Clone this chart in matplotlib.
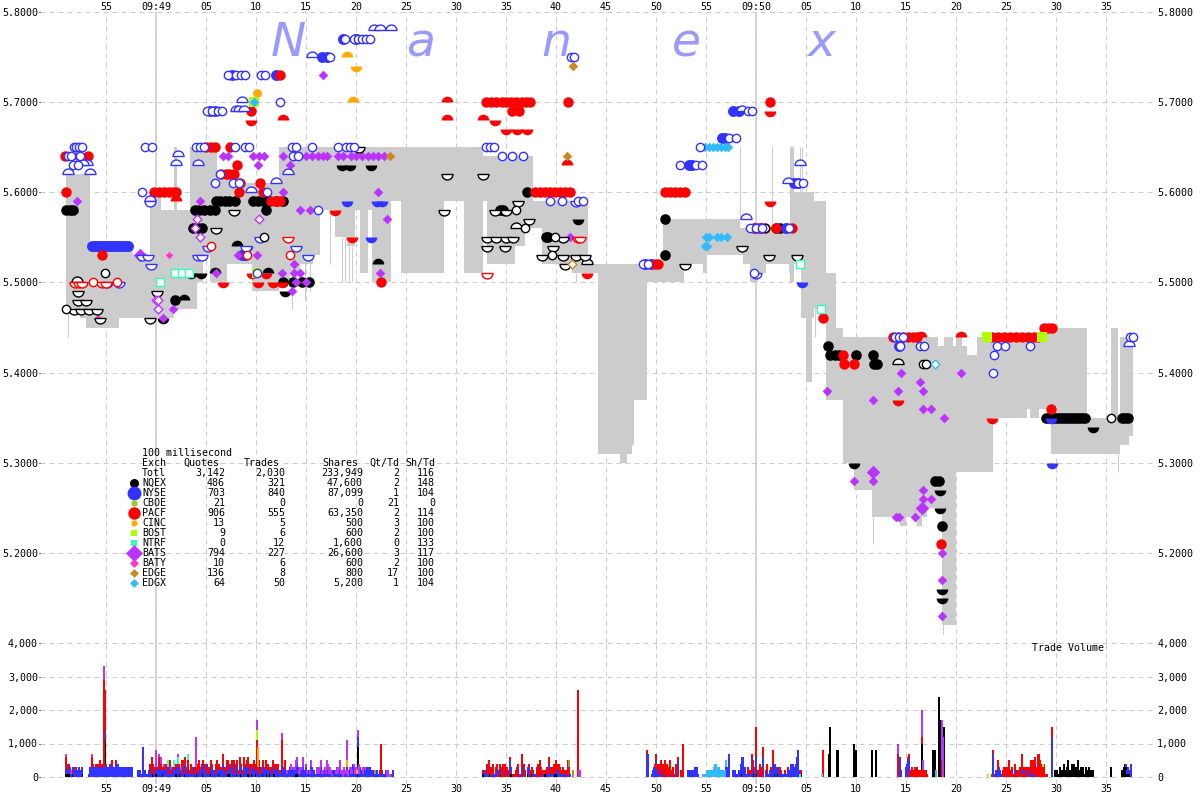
#!/usr/bin/env python3
from collections import defaultdict

import matplotlib
matplotlib.use("Agg")
import matplotlib.pyplot as plt
from matplotlib.path import Path
import numpy as np

plt.rcParams['font.family'] = ['DejaVu Sans Mono']
plt.rcParams['font.size'] = 7.2

BLUE = '#3333ff'
RED = '#ff0000'
BLACK = '#000000'
PURPLE = '#bb33ff'
ORANGE = '#ffaa00'
LIME = '#aaff00'
TEAL = '#33ffbb'
PINK = '#ff33cc'
GOLD = '#cc8822'
SKY = '#33bbff'
CBOE = '#99cc22'
GRAY = '#cccccc'

# seconds after 09:49:00, upper and lower edge of the grey band
band_t = [-9.0, -7.6, -7.0, -6.6, -3.7, -2.3, -0.6, 0.5, 1.8, 2.1, 3.4, 4.1, 4.7, 5.4, 6.1, 7.1, 8.2, 9.6,
          12.3, 13.4, 14.4, 15.7, 16.4, 17.9, 19.1, 19.9, 20.4, 21.2, 21.6, 23.5, 24.5, 28.8, 30.8, 32.7, 33.1,
          35.9, 36.9, 37.7, 38.6, 41.6, 43.2, 44.2, 46.4, 47.1, 47.6, 47.8, 49.1, 50.7, 52.8, 54.7, 55.1, 58.4,
          58.7, 59.4, 60.2, 61.0, 63.3, 63.4, 63.8, 64.5, 65.0, 65.6, 65.8, 67.0, 68.0, 68.7, 69.8, 71.6, 74.4,
          75.0, 76.1, 76.6, 77.1, 78.2, 78.6, 78.8, 79.7, 80.0, 80.6, 81.1, 82.1, 83.7, 87.1, 87.4, 88.3, 89.1,
          89.5, 93.1, 95.5, 96.2, 96.4, 97.3, 97.7]
band_hi = [5.62, 5.62, 5.62, 5.54, 5.54, 5.53, 5.60, 5.58, 5.65, 5.58, 5.65, 5.65, 5.65, 5.65, 5.62, 5.62, 5.61, 5.61,
           5.65, 5.65, 5.65, 5.65, 5.65, 5.65, 5.65, 5.65, 5.65, 5.65, 5.65, 5.65, 5.65, 5.65, 5.65, 5.64, 5.64,
           5.64, 5.64, 5.59, 5.59, 5.59, 5.52, 5.52, 5.52, 5.52, 5.52, 5.52, 5.52, 5.57, 5.57, 5.57, 5.57, 5.56,
           5.56, 5.56, 5.56, 5.56, 5.56, 5.65, 5.60, 5.60, 5.60, 5.60, 5.59, 5.51, 5.45, 5.44, 5.44, 5.44, 5.44,
           5.44, 5.44, 5.44, 5.44, 5.43, 5.43, 5.44, 5.43, 5.44, 5.43, 5.42, 5.44, 5.44, 5.44, 5.44, 5.44, 5.45,
           5.45, 5.35, 5.45, 5.35, 5.44, 5.44, 5.44]
band_lo = [5.47, 5.46, 5.45, 5.45, 5.46, 5.46, 5.46, 5.46, 5.47, 5.47, 5.47, 5.50, 5.53, 5.50, 5.50, 5.52, 5.52, 5.49,
           5.50, 5.51, 5.52, 5.53, 5.58, 5.55, 5.54, 5.58, 5.51, 5.58, 5.50, 5.59, 5.51, 5.59, 5.51, 5.59, 5.52,
           5.54, 5.56, 5.56, 5.52, 5.51, 5.51, 5.31, 5.30, 5.31, 5.32, 5.37, 5.50, 5.50, 5.52, 5.51, 5.53, 5.53,
           5.52, 5.50, 5.51, 5.52, 5.51, 5.50, 5.52, 5.46, 5.39, 5.46, 5.47, 5.37, 5.37, 5.30, 5.27, 5.24, 5.23,
           5.24, 5.23, 5.24, 5.25, 5.25, 5.12, 5.12, 5.12, 5.29, 5.29, 5.29, 5.29, 5.35, 5.36, 5.35, 5.36, 5.36,
           5.31, 5.31, 5.31, 5.31, 5.32, 5.33, 5.33]

thin_t = [-8.8, 13.6, 14.9, 15.4, 17.4, 18.6, 18.9, 19.3, 19.6, 58.4, 61.6, 64.4, 64.6, 65.9, 71.7, 78.7, 96.2, 42.0]
thin_hi = [5.47, 5.51, 5.52, 5.53, 5.58, 5.55, 5.55, 5.54, 5.54, 5.65, 5.65, 5.65, 5.65, 5.47, 5.24, 5.12, 5.31, 5.51]
thin_lo = [5.44, 5.47, 5.48, 5.49, 5.52, 5.50, 5.50, 5.50, 5.50, 5.57, 5.56, 5.60, 5.60, 5.44, 5.21, 5.11, 5.29, 5.50]

# markers: rows of (price, seconds)
blue_ring = [(5.77, [18.9, 19.8, 20.2, 20.6, 21.0, 21.4]), (5.75, [17.4, 41.5, 41.8]),
             (5.73, [7.2, 8.0, 8.5, 8.9, 10.5, 10.9]), (5.70, [12.4]), (5.69, [5.1, 5.6, 6.2, 6.6, 59.2, 59.6]),
             (5.66, [57.3, 58.0]), (5.65, [-8.2, -8.0, -7.7, -7.4, -1.1, -0.4, 4.0, 4.4, 4.8, 7.9, 8.9, 9.3, 13.6,
                                           14.0, 15.6, 18.2, 19.0, 19.4, 19.8, 33.0, 33.4, 33.8, 54.4]),
             (5.64, [-8.8, -8.5, -7.6, 13.7, 14.2, 34.6, 35.6, 36.7]), (5.63, [-8.3, -7.8, 52.4, 54.0, 54.6]),
             (5.62, [6.4]), (5.61, [5.9, 7.7, 8.3, 64.2, 64.7]), (5.60, [-1.4, 11.1]),
             (5.59, [39.4, 40.6, 42.2, 42.7]), (5.58, [16.2]), (5.56, [59.4, 60.0, 60.6, 63.3]),
             (5.52, [48.7, 49.2]), (5.51, [10.1, 59.8]), (5.44, [73.9, 74.3, 74.7, 97.4, 97.7]),
             (5.43, [74.4, 76.4, 76.8, 84.1, 84.9, 87.4]), (5.42, [83.8]), (5.40, [83.7])]
blue_fill = [(5.77, [18.7, 20.0]), (5.75, [16.6, 17.1]), (5.73, [7.6, 12.0]), (5.69, [5.4, 5.9, 57.7, 58.3]),
             (5.66, [56.6, 56.9]), (5.63, [53.3, 53.6]), (5.61, [63.8, 64.2]),
             (5.54, [-6.4, -6.1, -5.8, -5.5, -5.2, -4.9, -4.6, -4.3, -4.0, -3.7, -3.4, -3.1, -2.8]),
             (5.53, [8.6, 8.9]), (5.56, [59.9, 60.5, 63.0]), (5.52, [48.9, 49.5]), (5.43, [74.3])]
blue_bowl = [(5.59, [19.1, 22.1, 22.6]), (5.55, [21.5]), (5.54, [9.1]), (5.50, [64.6]), (5.35, [89.5]),
             (5.30, [89.6])]
blue_dome_o = [(5.78, [21.8, 22.4, 23.5]), (5.75, [15.6]), (5.69, [8.0, 8.3, 8.8]), (5.70, [8.6]),
               (5.69, [58.6]), (5.62, [-8.8, -6.6]), (5.63, [-6.9, -7.3]), (5.63, [2.0, 4.2]), (5.64, [2.2]),
               (5.60, [9.5]), (5.59, [-0.6]), (5.61, [63.2]), (5.63, [64.4]), (5.61, [12.0]), (5.62, [13.2]),
               (5.57, [59.0]), (5.43, [97.3])]
blue_bowl_o = [(5.59, [-0.6]), (5.53, [-1.4, -0.8, 4.2, 4.6]), (5.52, [-0.5]), (5.50, [-4.9]), (5.54, [5.2]),
               (5.55, [10.4]), (5.54, [9.0, 14.0]), (5.53, [15.2]), (5.51, [60.0]), (5.50, [-3.7]),
               (5.59, [42.0])]

red_fill = [(5.73, [12.4]), (5.70, [33.0, 33.5, 34.0, 34.6, 35.0, 35.5, 36.0, 36.6, 37.0, 37.4, 41.2, 61.4]),
            (5.69, [9.5, 35.6, 36.3]), (5.65, [5.0, 5.5, 5.9, 7.4]), (5.64, [-9.1, -6.8]), (5.63, [8.1]),
            (5.62, [6.5, 7.0, 7.3, 7.8]), (5.61, [8.4, 10.4]),
            (5.60, [-9.0, -0.2, 0.3, 0.8, 1.3, 1.7, 2.0, 8.3, 10.7, 37.9, 38.4, 38.9, 39.4, 39.9, 40.4, 40.9, 41.4,
                    50.9, 51.4, 51.9, 52.4, 52.9]),
            (5.59, [11.5, 12.0, 12.4]), (5.56, [59.8, 60.3, 60.9, 62.0, 63.6]), (5.53, [-5.4]),
            (5.52, [49.9, 50.2]), (5.50, [22.5]), (5.46, [66.7]), (5.45, [88.8, 89.2, 89.6]),
            (5.44, [73.7, 74.2, 74.7, 75.2, 75.7, 76.1, 83.6, 84.2, 84.8, 85.4, 86.0, 86.6, 87.2, 87.8, 88.2]),
            (5.42, [68.7]), (5.41, [68.8, 69.8]), (5.36, [89.5]), (5.21, [78.5])]
red_dome = [(5.70, [29.1]), (5.68, [12.7, 29.1, 32.7]), (5.63, [41.1]), (5.59, [2.0]), (5.44, [76.5, 80.5])]
red_bowl = [(5.69, [61.4]), (5.68, [9.5, 33.9]), (5.67, [35.0, 36.1, 37.1]), (5.59, [61.4]), (5.58, [17.9]),
            (5.55, [19.6]), (5.51, [9.6, 11.0, 43.1]),
            (5.50, [6.7, 10.2, 11.7, 12.6]), (5.37, [74.2]), (5.35, [83.6])]
red_ring = [(5.54, [5.5]), (5.53, [9.1, 13.4]), (5.50, [-6.3, -3.9])]
red_bowl_o = [(5.50, [-8.1, -7.7, -7.4]), (5.55, [42.2, 42.4]), (5.51, [33.1]), (5.55, [13.2]),
              (5.50, [-5.4, -5.0])]

black_fill = [(5.60, [37.1]), (5.59, [6.0, 6.4, 6.9, 7.3, 7.9, 9.7, 10.2, 10.7, 11.3, 12.0, 12.7]),
              (5.58, [-9.0, -8.6, -8.3, 3.9, 4.3, 4.8, 5.4, 5.9, 11.0, 34.7, 34.4]),
              (5.57, [50.9]), (5.56, [3.7, 4.2, 4.6, 62.0, 62.4]), (5.55, [39.2, 39.0]), (5.53, [50.9]),
              (5.50, [12.7, 13.7, 15.3, 14.6]), (5.48, [1.9]),
              (5.43, [67.2]), (5.42, [67.4, 67.9, 68.3, 70.0, 71.7]), (5.41, [71.8, 72.1]), (5.28, [77.9, 78.3]),
              (5.23, [78.6]),
              (5.35, [89.0, 89.3, 89.6, 89.9, 90.2, 90.5, 90.8, 91.1, 91.4, 91.7, 92.0, 92.3, 92.6, 92.9, 96.6, 96.9,
                      97.2])]
black_dome = [(5.54, [8.1]), (5.52, [22.2]), (5.51, [5.9, 11.2]), (5.48, [2.8])]
black_bowl = [(5.63, [18.6, 19.4, 21.5]), (5.51, [3.5, 4.5]), (5.49, [12.9]), (5.46, [0.7]), (5.57, [42.2]),
              (5.58, [34.8]), (5.34, [93.7]), (5.30, [69.8]), (5.27, [78.4]), (5.25, [78.4]), (5.16, [78.6]),
              (5.15, [78.6])]
black_ring = [(5.58, [36.0]), (5.56, [36.9]), (5.55, [39.9, 10.8]), (5.53, [39.6]), (5.51, [-5.1]), (5.47, [-9.0]),
              (5.35, [95.5]), (5.41, [76.7, 77.0]), (5.56, [60.9])]
black_bowl_o = [(5.65, [20.3]), (5.62, [29.1, 32.7]), (5.59, [36.2]), (5.58, [7.8, 28.8, 33.9, 35.0]), (5.57, [37.3]),
                (5.56, [6.0]), (5.55, [33.1, 34.0, 35.0, 35.7, 40.7]), (5.54, [33.1, 34.9, 39.7, 58.6]),
                (5.53, [38.6, 40.7, 42.0, 42.9, 61.3, 64.1]), (5.52, [52.9, 40.9]), (5.49, [-7.8, 0.1]),
                (5.48, [-7.8, -7.0]), (5.47, [-8.2, -7.5, -6.7, -5.9]), (5.46, [-5.6, -0.6])]
black_dome_o = [(5.50, [-7.9]), (5.52, [43.1]), (5.41, [74.2]), (5.56, [36.0])]

purple_d = [(5.73, [16.7]), (5.64, [-8.0, 6.7, 7.2, 9.7, 10.3, 10.8, 12.7, 14.4, 15.0, 15.6, 16.2, 16.7, 17.1, 18.2,
                                    18.7, 19.5, 20.0, 20.6, 21.2, 21.7, 22.2, 22.8]),
            (5.63, [10.2, 13.4]), (5.60, [12.7, 22.2]), (5.59, [-7.9, 4.4]), (5.58, [14.4, 15.4]), (5.57, [23.1]),
            (5.55, [41.4]), (5.53, [8.2, 10.1]), (5.52, [13.8]), (5.51, [6.0, 12.6, 13.8, 14.4, 22.4]),
            (5.50, [14.0, 15.0]), (5.49, [13.6]), (5.47, [1.7]), (5.46, [0.7]), (5.40, [74.5, 80.5]), (5.39, [76.4]),
            (5.38, [67.1, 74.2, 76.7]), (5.37, [71.7]), (5.36, [76.7, 77.5]), (5.35, [78.8]), (5.28, [69.8, 71.7]),
            (5.27, [76.7]), (5.26, [76.7, 77.5]), (5.24, [74.0, 74.3, 75.9]), (5.20, [78.6]), (5.17, [78.6]),
            (5.13, [78.6])]
purple_big = [(5.53, [-1.6]), (5.29, [71.7]), (5.25, [76.6])]
purple_o = [(5.57, [4.1, 10.3]), (5.56, [3.9]), (5.55, [4.4]), (5.48, [0.0, 0.2]), (5.47, [0.2])]
orange_fill = [(5.71, [10.1])]
orange_dome = [(5.75, [19.1]), (5.70, [19.7])]
orange_bowl = [(5.74, [20.0])]
gold_d = [(5.74, [41.7]), (5.64, [23.4, 41.1])]
gold_o = [(5.52, [41.6])]
sky_d = [(5.70, [9.8]), (5.65, [54.9, 55.3, 55.7, 56.1, 56.5, 56.9, 57.2]), (5.55, [55.0, 55.3, 56.1, 56.5, 57.1]),
         (5.54, [54.9, 55.1])]
sky_o = [(5.41, [77.9])]
lime_sq = [(5.70, [9.8]), (5.51, [10.1]), (5.44, [83.1, 88.6])]
teal_sq = [(5.52, [64.4]), (5.51, [1.9, 2.6, 3.3]), (5.50, [0.4]), (5.47, [66.5])]
pink_d = [(5.46, [-5.8]), (5.53, [1.3])]

# trade volume: runs of digits, one per 0.1 s, in hundreds of shares
vol_black = [(-9.0, "11111011010010001"), (-5.2, "01"), (-0.8, "0010110111 0100110010 1010010111 0110101100"),
             (4.0, "1101001100 0100110000 0011000100 0111101000 1100110010 0111011001 1001001100"),
             (11.0, "1101100111 0100001000 0000000101 1110000000 0000001000 0000000000"),
             (19.0, "0000000010 0100100010 0100100000 0000000000"),
             (32.7, "1000001100 0000010100 0100100110 0000100000 0100010011 0100010001 0111000010 0111100"),
             (58.0, "0000011000 0000000110 1101000000 0000000011011"),
             (64.0, "0000010"),
             (89.9, "2121132124 2035120414 0305203231 0320302"), (93.7, "2"), (95.5, "3"), (96.6, "223431211")]
vol_blue = [(-9.0, "31222102312113222"), (-6.7, "13333323333333333433343333343433333333333333"),
            (-1.8, "2121191211"), (-0.8, "1221321121 1232112213 2121312112 3211221312 2112132112"),
            (4.2, "1121231213 2112321123 2112132213 2113214212 1132112312 3211213122 1231121321"),
            (11.2, "2112123121 3112213211 2132212123 2112232131 2113222111 2123112213 2111021212"),
            (18.2, "1321201213 0121142120 3121211212 3121222112 112121 1120000112"),
            (32.8, "0221120011 0113101000 0201014200 0102100031 0000230011 0100003100 0001142011 2012231211 1120411"),
            (49.1, "7700012335 2112301210 1002100012 0500000000 0222222233 31"),
            (57.0, "3327000222 1112235623 1111116211 5100200600 1210222423 1222111111"),
            (63.0, "1122144423 4682"), (74.3, "6620000345 6"), (83.7, "7112023210 0012010101 0021010102 0200122022 114"),
            (97.0, "111114")]
vol_red = [(-9.0, "22010010001000000"), (-6.7, "00031001011210100000000200010000000000000"),
           (-0.8, "0013212101 0322111211 0121001201 1101230211 3012100211"),
           (4.2, "2310110210 1212100122 1201031021 2201211202 1121013102 2112102210 2201120021"),
           (11.2, "2011120212 1010200300 0000000000 0000000000"),
           (32.7, "1000312212 3002101203 4222111100 1102030114 0320001111 1000332221 1111212122 2123111201 2110212"),
           (49.1, "1000000012 2032223041 3333113102 31002110"),
           (59.0, "0021111212 1011223300 1200011400 0"),
           (62.4, "2100010010 00000000"), (75.2, "1122321323 2212222121"),
           (83.6, "1100003000 0232122511 2112021121 5111321123 2442113322 21211"), (88.0, "224431222001")]
vol_purple = [(-9.0, "10000100000000000"), (-6.4, "100000000"), (-0.6, "0000001001 0200100000 0100000010 01"),
              (12.6, "1000010002 0111220121 1300110012"),
              (16.0, "0212121101 2221211000 1120310220 1120121012 1123000211"),
              (23.1, "2210"), (42.0, "00022")]
vol_sky = [(54.7, "1111212221 2344333221 2222")]
vol_other_t = [1.2, 1.8, 2.2, 3.2, 4.0, 10.2, 10.1, 19.1, 20.1, 21.9, 41.3, 41.7, 23.4, 64.4, 66.6, 78.0, 83.2, 88.7]
vol_other_v = [2, 2, 2, 2, 1, 6, 3, 2, 1, 1, 2, 2, 1, 1, 1, 2, 1, 1]
vol_other_c = [TEAL, TEAL, TEAL, TEAL, PINK, ORANGE, LIME, ORANGE, ORANGE, GOLD, GOLD, GOLD, GOLD, TEAL, TEAL,
               SKY, LIME, LIME]
# spikes too tall for one digit
spike_black_t = [-5.1, 20.2, 67.4, 67.3, 68.1, 68.2, 69.8, 70.0, 71.6, 72.0, 76.6, 77.7, 77.9, 78.3, 78.4, 78.8]
spike_black_v = [10, 9, 15, 7, 8, 8, 10, 8, 8, 8, 10, 8, 8, 24, 17, 15]
spike_blue_t = [89.6]
spike_blue_v = [12]
spike_red_t = [-5.2, -5.1, 10.1, 12.6, 22.5, 42.2, 52.7, 60.0, 64.5, 66.7, 74.2, 78.6, 89.6]
spike_red_v = [26, 12, 9, 6, 9, 26, 9, 8, 1, 8, 7, 5, 3]
spike_purple_t = [-5.2, 0.0, 4.0, 10.1, 19.1, 12.6, 74.2, 76.6, 76.7, 78.6, 78.7]
spike_purple_v = [4, 4, 8, 3, 5, 1, 3, 8, 3, 12, 12]

ytick_price = [5.8, 5.7, 5.6, 5.5, 5.4, 5.3, 5.2]
ytick_vol = [0, 1000, 2000, 3000, 4000]
xtick_t = list(range(-5, 100, 5))

legend_names = ['NQEX', 'NYSE', 'CBOE', 'PACF', 'CINC', 'BOST', 'NTRF', 'BATS', 'BATY', 'EDGE', 'EDGX']
legend_quotes = ['486', '703', '21', '906', '13', '9', '0', '794', '10', '136', '64']
legend_trades = ['321', '840', '0', '555', '5', '6', '12', '227', '6', '8', '50']
legend_shares = ['47,600', '87,099', '0', '63,350', '500', '600', '1,600', '26,600', '600', '800', '5,200']
legend_qt = ['2', '1', '21', '2', '3', '2', '0', '3', '2', '17', '1']
legend_sh = ['148', '104', '0', '114', '100', '100', '133', '117', '100', '100', '104']
legend_colors = [BLACK, BLUE, CBOE, RED, ORANGE, LIME, TEAL, PURPLE, PINK, GOLD, SKY]
legend_marks = ['o', 'o', 'o', 'o', 'o', 's', 's', 'D', 'D', 'D', 'D']
legend_sizes = [42, 100, 20, 80, 20, 20, 20, 75, 20, 20, 20]

DOME = Path.wedge(0, 180)
BOWL = Path.wedge(180, 360)
DASH = (0, (5, 4))


def rows(data):
    t = []
    p = []
    for price, times in data:
        for x in times:
            t.append(x)
            p.append(price)
    return t, p


def dots(ax, data, color, marker='o', s=52, face=None, z=5):
    t, p = rows(data)
    fc = color if face is None else face
    lw = 0 if face is None else 1.0
    ax.scatter(t, p, s=s, marker=marker, facecolors=fc, edgecolors=color, linewidths=lw, zorder=z, antialiased=False)


def spread(runs):
    out = []
    for start, digits in runs:
        digits = digits.replace(" ", "")
        for i, d in enumerate(digits):
            if d != "0":
                out.append((round(start + i * 0.1, 1), int(d)))
    return out


fig = plt.figure(figsize=(12, 8), dpi=100)
L, R = 40 / 1200, 1155 / 1200
ax = fig.add_axes([L, 1 - 643 / 800, R - L, (643 - 12) / 800])
vax = fig.add_axes([L, 1 - 784 / 800, R - L, (784 - 643) / 800])
over = fig.add_axes([0, 0, 1, 1], facecolor='none')
over.set_xlim(0, 1200)
over.set_ylim(800, 0)
over.axis('off')

xlim = (-11.6, 99.9)
labels = []
for t in xtick_t:
    if t == 0:
        labels.append('09:49')
    elif t == 60:
        labels.append('09:50')
    else:
        labels.append('%02d' % (t % 60))

for a in (ax, vax):
    a.set_xlim(xlim)
    a.set_xticks(xtick_t)
    a.set_xticklabels(labels)
    a.set_axisbelow(True)
    a.grid(True, color=GRAY, linestyle=DASH, linewidth=0.72)
    for s in a.spines.values():
        s.set_visible(False)
    for t in (0, 60):
        a.axvline(t, color=GRAY, linewidth=1.1, zorder=0.5)

ax.set_ylim(5.1, 5.8)
ax.set_yticks(ytick_price)
ax.set_yticklabels(['%.4f' % v for v in ytick_price])
ax.set_yticks([5.1], minor=True)
ax.grid(True, which='minor', axis='y', color=GRAY, linestyle=DASH, linewidth=0.72)
ax.tick_params(axis='y', which='major', left=True, right=False, labelleft=True, labelright=True, length=1, width=0.8, pad=0.5)
ax.tick_params(axis='y', which='minor', length=0)
ax.tick_params(axis='x', bottom=False, top=False, labelbottom=False, labeltop=True, length=0, pad=0)

vax.set_ylim(-4000 * 7 / 134, 4000)
vax.set_yticks(ytick_vol)
vax.set_yticklabels(['{:,}'.format(v) for v in ytick_vol])
vax.tick_params(axis='y', left=True, right=False, labelleft=True, labelright=True, length=1, width=0.8, pad=0.5)
vax.tick_params(axis='x', bottom=False, labelbottom=True, length=0, pad=0)

# title letters
for x, ch in zip([288, 421, 556, 686, 821], "Nanex"):
    over.text(x, 44, ch, fontsize=34, family='DejaVu Sans', style='italic', color='#9999ff', ha='center', va='center',
              zorder=1)

ax.fill_between(band_t, band_hi, band_lo, step='post', color=GRAY, linewidth=0, zorder=1, antialiased=False)
ax.vlines(thin_t, thin_lo, thin_hi, color=GRAY, linewidth=0.8, zorder=1)

dots(ax, black_fill, BLACK, s=58, z=4)
dots(ax, blue_fill, BLUE, s=62, z=4)
dots(ax, red_fill, RED, s=56, z=4.5)
dots(ax, black_dome, BLACK, marker=DOME, s=70)
dots(ax, black_bowl, BLACK, marker=BOWL, s=70)
dots(ax, blue_bowl, BLUE, marker=BOWL, s=70)
dots(ax, red_dome, RED, marker=DOME, s=70)
dots(ax, red_bowl, RED, marker=BOWL, s=70)
dots(ax, orange_fill, ORANGE, s=40)
dots(ax, orange_dome, ORANGE, marker=DOME, s=70)
dots(ax, orange_bowl, ORANGE, marker=BOWL, s=70)
dots(ax, purple_d, PURPLE, marker='D', s=24)
dots(ax, purple_big, PURPLE, marker='D', s=48)
dots(ax, gold_d, GOLD, marker='D', s=24)
dots(ax, pink_d, PINK, marker='D', s=14)
dots(ax, lime_sq, LIME, marker='s', s=50)
dots(ax, sky_d, SKY, marker='D', s=24, z=5.2)
dots(ax, black_dome_o, BLACK, marker=DOME, s=62, face='white', z=5.3)
dots(ax, black_bowl_o, BLACK, marker=BOWL, s=62, face='white', z=5.3)
dots(ax, blue_dome_o, BLUE, marker=DOME, s=62, face='white', z=5.3)
dots(ax, blue_bowl_o, BLUE, marker=BOWL, s=62, face='white', z=5.3)
dots(ax, red_bowl_o, RED, marker=BOWL, s=62, face='white', z=5.3)
dots(ax, black_ring, BLACK, s=36, face='white', z=5.4)
dots(ax, blue_ring, BLUE, s=36, face='white', z=5.4)
dots(ax, red_ring, RED, s=36, face='white', z=5.4)
dots(ax, purple_o, PURPLE, marker='D', s=20, face='white', z=5.4)
dots(ax, gold_o, GOLD, marker='D', s=20, face='white', z=5.4)
dots(ax, sky_o, SKY, marker='D', s=20, face='white', z=5.4)
dots(ax, teal_sq, TEAL, marker='s', s=36, face='white', z=5.4)

# stacked volume bars
base = defaultdict(float)


def stack(pairs, color):
    t = [p[0] for p in pairs]
    v = [p[1] * 100.0 for p in pairs]
    b = []
    for x, h in zip(t, v):
        b.append(base[x])
        base[x] += h
    vax.bar(t, v, width=0.125, bottom=b, color=color, linewidth=0, zorder=3, antialiased=False)


stack(spread(vol_black) + [(round(a, 1), b) for a, b in zip(spike_black_t, spike_black_v)], BLACK)
stack(spread(vol_blue) + [(round(a, 1), b) for a, b in zip(spike_blue_t, spike_blue_v)], BLUE)
stack(spread(vol_sky), SKY)
stack(spread(vol_red) + [(round(a, 1), b) for a, b in zip(spike_red_t, spike_red_v)], RED)
for a, b, c in zip(vol_other_t, vol_other_v, vol_other_c):
    stack([(round(a, 1), b)], c)
stack(spread(vol_purple) + [(round(a, 1), b) for a, b in zip(spike_purple_t, spike_purple_v)], PURPLE)

over.text(1032, 648, 'Trade Volume', ha='left', va='center')

# legend table
over.text(142, 453, '100 millisecond', ha='left', va='center')
over.text(142, 463, 'Exch', ha='left', va='center')
for x, name in zip([219, 280, 358, 399, 435], ['Quotes', 'Trades', 'Shares', 'Qt/Td', 'Sh/Td']):
    over.text(x, 463, name, ha='right', va='center')
over.text(142, 473, 'Totl', ha='left', va='center')
for x, val in zip([225, 285, 363, 399, 435], ['3,142', '2,030', '233,949', '2', '116']):
    over.text(x, 473, val, ha='right', va='center')
for i, name in enumerate(legend_names):
    y = 483 + 10 * i
    over.scatter([134], [y], s=legend_sizes[i], marker=legend_marks[i], color=legend_colors[i], linewidths=0,
                 antialiased=False)
    over.text(142, y, name, ha='left', va='center')
    for x, col in zip([225, 285, 363, 399, 435], [legend_quotes, legend_trades, legend_shares, legend_qt, legend_sh]):
        over.text(x, y, col[i], ha='right', va='center')

fig.savefig('out.png', dpi=100)
